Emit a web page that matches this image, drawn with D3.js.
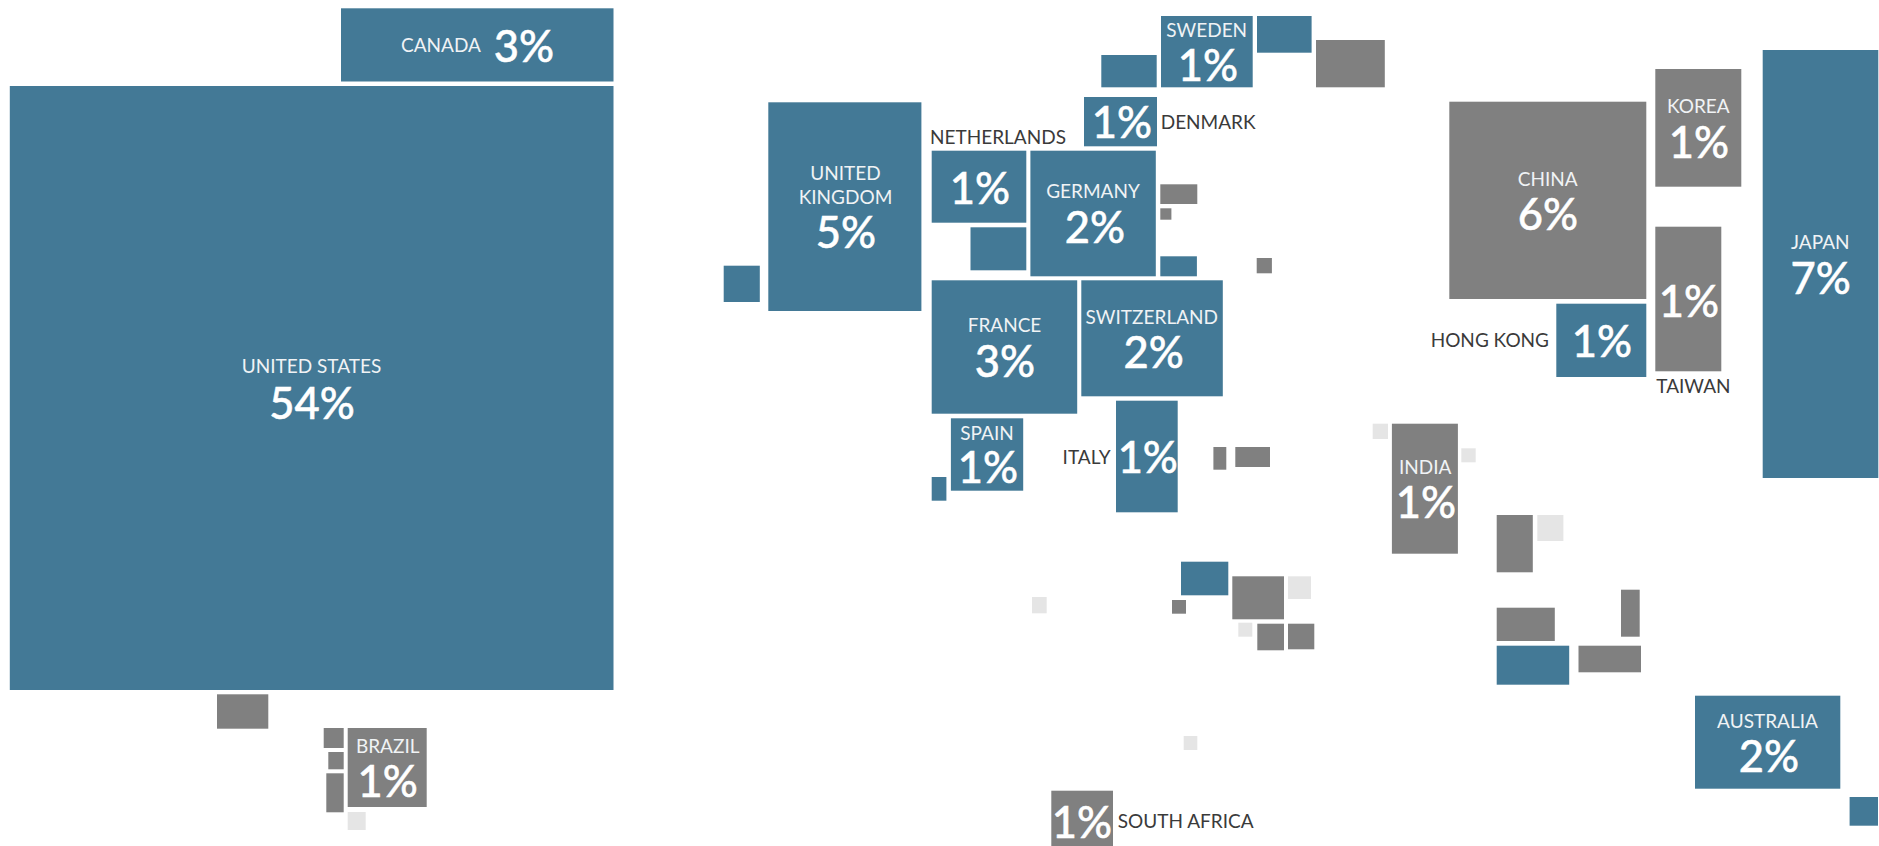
<!DOCTYPE html>
<html>
<head>
<meta charset="utf-8">
<script src="https://cdn.jsdelivr.net/npm/d3@7"></script>
<style>
html, body { margin: 0; padding: 0; background: #fff; overflow: hidden; }
svg { display: block; }
text { font-family: Lato, "Open Sans", sans-serif; }
</style>
</head>
<body>
<div id="chart"></div>
<script>
// tile cartogram, map units are the width/height of the picture
const mapWidth = 1879;
const mapHeight = 846;

const tileCountry = ["United States", "Canada", "", "", "", "", "Brazil", "",
    "", "United Kingdom", "Netherlands", "", "Germany", "France", "Switzerland", "Spain", "", "Italy",
    "Denmark", "Sweden", "", "", "", "", "", "", "", "", "",
    "", "", "", "", "", "", "", "", "", "South Africa",
    "", "India", "", "", "", "", "", "", "",
    "China", "Hong Kong", "Korea", "Taiwan", "Japan", "Australia", ""];
const tileGroup = ["dev", "dev", "em", "em", "em", "em", "em", "fr",
    "dev", "dev", "dev", "dev", "dev", "dev", "dev", "dev", "dev", "dev",
    "dev", "dev", "dev", "dev", "em", "em", "em", "dev", "em", "em", "em",
    "dev", "em", "em", "fr", "fr", "em", "em", "fr", "fr", "em",
    "fr", "em", "fr", "em", "fr", "em", "dev", "em", "em",
    "em", "dev", "em", "em", "dev", "dev", "dev"];
const tileLeft = [9.8, 341, 217, 323.7, 328.3, 326.3, 347.7, 347.7,
    723.7, 768.3, 931.7, 970.5, 1030.4, 931.7, 1081.3, 950.9, 931.7, 1116,
    1084, 1161, 1101.3, 1257, 1316, 1160.3, 1160.3, 1160.3, 1256.7, 1213.4, 1235.3,
    1181, 1172, 1232.3, 1288, 1238.3, 1257.3, 1288, 1032, 1183.7, 1051.3,
    1372.7, 1391.9, 1461.3, 1496.7, 1537.3, 1496.7, 1496.7, 1621, 1578.5,
    1449.3, 1556.3, 1655.3, 1655.3, 1762.7, 1695, 1849.6];
const tileTop = [86, 8.3, 694.3, 728, 752, 773.3, 728, 812,
    265.7, 102.3, 150.7, 227.3, 150.7, 280.3, 280.3, 418.3, 477, 400.7,
    97, 16, 55, 16, 40, 184.3, 208.3, 256.3, 258, 447, 447,
    561.7, 600, 576.3, 576.3, 622.7, 623.7, 623.7, 597, 736, 790.7,
    423.7, 423.7, 448.3, 515, 515, 607.7, 645.7, 589.7, 645.7,
    101.7, 303.7, 69, 226.7, 50, 695.7, 797];
const tileWidth = [603.7, 272.5, 51.3, 20, 15.4, 17.4, 79, 18,
    36.1, 153.1, 94.6, 55.8, 125.4, 145.5, 141.5, 72.3, 14.7, 61.7,
    73, 91.7, 55.4, 54.6, 68.8, 37, 11.1, 36.6, 15.2, 12.9, 34.7,
    47.3, 14, 51.7, 23, 14, 26.7, 26.3, 14.7, 13.6, 61.7,
    15.3, 66, 14.4, 36.1, 26.1, 58.1, 72.5, 18.7, 62.5,
    197, 90, 86, 66, 115.6, 145.3, 28.4];
const tileHeight = [604, 73.2, 34.4, 20, 17.3, 39, 79, 18,
    36.3, 208.7, 72, 43, 125.6, 133.4, 116, 72.4, 23.7, 111.6,
    49.3, 71.3, 32.3, 36.7, 47.3, 19.7, 11.4, 20, 15.3, 22.7, 20,
    33.6, 13.7, 43, 22.7, 14, 26.6, 25.6, 16.3, 14, 61.7,
    15.3, 130, 14, 57.3, 26, 33.3, 39, 47, 26.6,
    197.3, 73.3, 117.7, 144.6, 428, 93, 28.7];

const labelCountries = ["United States", "Canada", "Brazil", "United Kingdom", "Netherlands", "Germany",
    "France", "Switzerland", "Spain", "Italy", "Denmark", "Sweden", "South Africa",
    "India", "China", "Hong Kong", "Korea", "Taiwan", "Japan", "Australia"];
const labelShares = [54, 3, 1, 5, 1, 2, 3, 2, 1, 1, 1, 1, 1, 1, 6, 1, 1, 1, 7, 2];

// where the words go: [x, baseline, anchor] for the name lines, [x, baseline] for the share
const labelSpots = {
    "United States": {name: [["UNITED STATES", 311.5, 373, "middle"]], share: [312, 419]},
    "Canada": {name: [["CANADA", 441, 51.7, "middle"]], share: [524, 62]},
    "Brazil": {name: [["BRAZIL", 387.7, 752.7, "middle"]], share: [387.7, 797.3]},
    "United Kingdom": {name: [["UNITED", 845.5, 180, "middle"], ["KINGDOM", 845.5, 204.3, "middle"]], share: [846, 248.3]},
    "Netherlands": {name: [["NETHERLANDS", 930, 144, "start", true]], share: [980, 203.7]},
    "Germany": {name: [["GERMANY", 1093, 198, "middle"]], share: [1095, 243]},
    "France": {name: [["FRANCE", 1004.5, 332.3, "middle"]], share: [1005, 376.7]},
    "Switzerland": {name: [["SWITZERLAND", 1151.8, 324, "middle"]], share: [1153.6, 368]},
    "Spain": {name: [["SPAIN", 987, 440, "middle"]], share: [988, 483.3]},
    "Italy": {name: [["ITALY", 1110.5, 463.7, "end", true]], share: [1147.8, 472.7]},
    "Denmark": {name: [["DENMARK", 1160.7, 129, "start", true]], share: [1122, 138.3]},
    "Sweden": {name: [["SWEDEN", 1206.7, 37.3, "middle"]], share: [1208, 81]},
    "South Africa": {name: [["SOUTH AFRICA", 1117.7, 828.3, "start", true]], share: [1082, 837.7]},
    "India": {name: [["INDIA", 1425.2, 474, "middle"]], share: [1426, 517.7]},
    "China": {name: [["CHINA", 1547.7, 186, "middle"]], share: [1548, 230.3]},
    "Hong Kong": {name: [["HONG KONG", 1549, 347.3, "end", true]], share: [1602, 357]},
    "Korea": {name: [["KOREA", 1698.3, 113.3, "middle"]], share: [1699, 158]},
    "Taiwan": {name: [["TAIWAN", 1656.3, 393.3, "start", true]], share: [1689, 316.7]},
    "Japan": {name: [["JAPAN", 1820.3, 249.3, "middle"]], share: [1820.7, 294]},
    "Australia": {name: [["AUSTRALIA", 1767.5, 727.7, "middle"]], share: [1769, 771.7]}
};

const x = d3.scaleLinear().domain([0, mapWidth]).range([0, 1879]);
const y = d3.scaleLinear().domain([0, mapHeight]).range([0, 846]);
const color = d3.scaleOrdinal().domain(["dev", "em", "fr"]).range(["#437996", "#808080", "#e5e5e5"]);

const svg = d3.select("#chart").append("svg")
    .attr("width", 1879)
    .attr("height", 846);

const tiles = tileLeft.map((left, i) => ({
    country: tileCountry[i],
    group: tileGroup[i],
    left: left,
    top: tileTop[i],
    width: tileWidth[i],
    height: tileHeight[i]
}));

svg.selectAll("rect")
    .data(tiles)
    .join("rect")
    .attr("x", d => x(d.left))
    .attr("y", d => y(d.top))
    .attr("width", d => x(d.left + d.width) - x(d.left))
    .attr("height", d => y(d.top + d.height) - y(d.top))
    .attr("fill", d => color(d.group));

labelCountries.forEach((country, i) => {
    const spot = labelSpots[country];
    spot.name.forEach(line => {
        svg.append("text")
            .attr("x", x(line[1]))
            .attr("y", y(line[2]))
            .attr("text-anchor", line[3])
            .attr("font-size", 19)
            .attr("fill", line[4] ? "#3a3a3a" : "#f0f3f5")
            .text(line[0]);
    });
    // the shares are a bit heavier than Lato medium, a thin stroke thickens them
    svg.append("text")
        .attr("x", x(spot.share[0]))
        .attr("y", y(spot.share[1]))
        .attr("text-anchor", "middle")
        .attr("font-size", 43.5)
        .attr("font-weight", 500)
        .attr("fill", "#fff")
        .attr("stroke", "#fff")
        .attr("stroke-width", 0.5)
        .text(labelShares[i] + "%");
});
</script>
</body>
</html>
